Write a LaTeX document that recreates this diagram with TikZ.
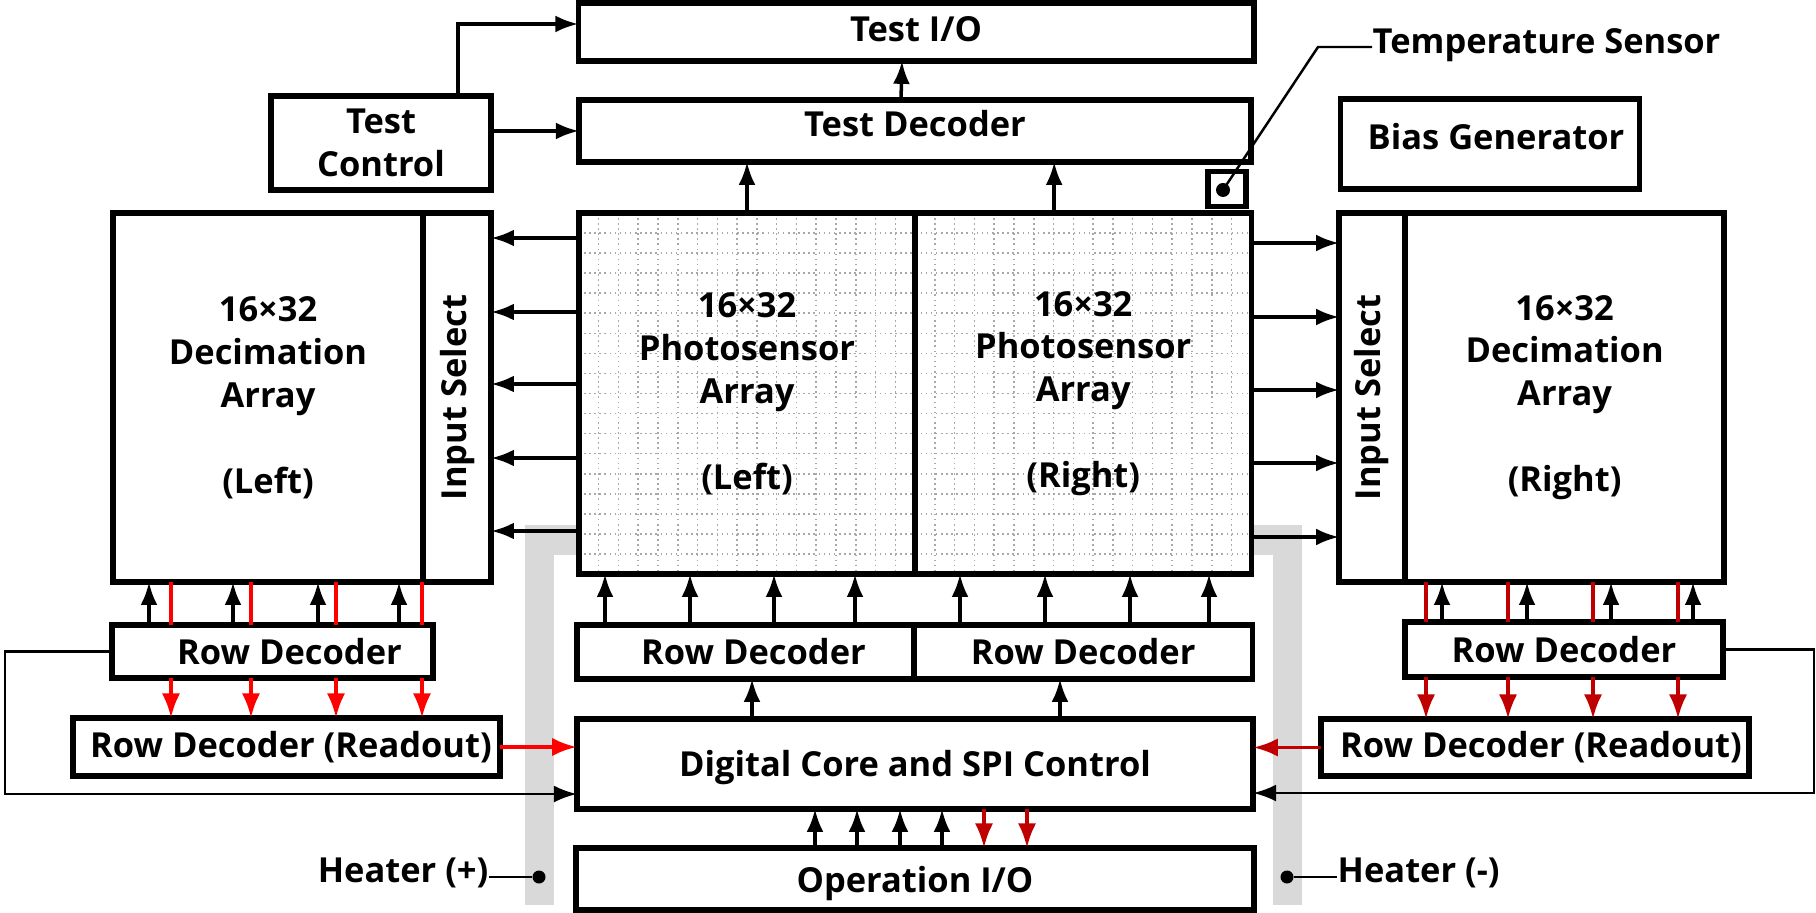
\documentclass[tikz,border=0pt]{standalone}
\usepackage{fontspec}
\setmainfont{Open Sans}
\usepackage{tikz}
\usetikzlibrary{positioning}
\usetikzlibrary{calc}
\usetikzlibrary{backgrounds}
\usetikzlibrary{arrows.meta}
\definecolor{brightred}{HTML}{FF0000}
\definecolor{darkred}{HTML}{C00000}
\definecolor{heatgray}{HTML}{D9D9D9}
\definecolor{gridgray}{HTML}{A8A8A8}
\tikzset{
	block/.style={draw, rectangle, line width=1.6pt, fill=white, inner sep=0pt, outer sep=0pt, align=center, font=\bfseries\fontsize{9.8}{12.2}\selectfont},
	txt/.style={inner sep=0pt, font=\bfseries\fontsize{9.8}{12.2}\selectfont},
	heatpin/.style={circle, fill=black, inner sep=0pt, minimum size=0.13cm},
	heater/.style={line width=0.29cm, heatgray},
	wire/.style={line width=0.7pt},
	gridln/.style={gridgray, line width=0.45pt, densely dotted},
}
% shift a label up or down without changing the box
\newcommand{\lift}[2]{\raisebox{#1}[\height][\depth]{#2}}

\begin{document}
\begin{tikzpicture}[x=0.01cm, y=-0.01cm]
		\useasboundingbox (0,0) rectangle (1816,913);
		
		\node (testio) [block, minimum width=6.75cm, minimum height=0.58cm] at (916,32) {\lift{0.03cm}{Test I/O}};
		\node (testdec) [block, minimum width=6.72cm, minimum height=0.62cm] at (915,131) {\lift{0.07cm}{Test Decoder}};
		\node (testctl) [block, minimum width=2.2cm, minimum height=0.94cm] at (381,143) {Test\\Control};
		\node (bias) [block, minimum width=2.99cm, minimum height=0.9cm] at (1490,144) {\lift{0.07cm}{\hspace*{0.12cm}Bias Generator}};
		\node (tsens) [block, minimum width=0.38cm, minimum height=0.35cm] at (1227,189) {};
		\node (tdot) [heatpin, minimum size=0.14cm] at (1223,190) {};
		\node (tlabel) [txt, anchor=west] at (1372,45) {Temperature Sensor};
		\coordinate (tbend) at (1318,47);
		
		\node (sL) [block, fill=none, minimum width=3.36cm, minimum height=3.61cm] at (747,393.5) {16×32\\Photosensor\\Array\\[12.2pt](Left)};
		\node (sR) [block, fill=none, right=0pt of sL, minimum width=3.36cm, minimum height=3.61cm] {16×32\\Photosensor\\Array\\[12.2pt](Right)};
		
		\node (decL) [block, minimum width=3.1cm, minimum height=3.69cm] at (268,397.5) {16×32\\Decimation\\Array\\[12.2pt](Left)};
		\node (selL) [block, right=0pt of decL, minimum width=0.68cm, minimum height=3.69cm] {\rotatebox{90}{Input Select}};
		\node (selR) [block, minimum width=0.66cm, minimum height=3.69cm] at (1372,397.5) {\rotatebox{90}{Input Select}};
		\node (decR) [block, right=0pt of selR, minimum width=3.19cm, minimum height=3.69cm] {16×32\\Decimation\\Array\\[12.2pt](Right)};
		
		\node (rdL) [block, minimum width=3.21cm, minimum height=0.53cm] at (272.5,651.5) {\hspace*{0.34cm}Row Decoder};
		\node (rdoL) [block, minimum width=4.27cm, minimum height=0.58cm] at (286.5,747) {\hspace*{0.09cm}Row Decoder (Readout)};
		\node (rdC1) [block, minimum width=3.37cm, minimum height=0.54cm] at (745.5,652) {\hspace*{0.16cm}Row Decoder};
		\node (rdC2) [block, right=0pt of rdC1, minimum width=3.38cm, minimum height=0.54cm] {Row Decoder};
		\node (rdR) [block, minimum width=3.18cm, minimum height=0.55cm] at (1564,649.5) {Row Decoder};
		\node (rdoR) [block, minimum width=4.28cm, minimum height=0.57cm] at (1535,747.5) {\hspace*{0.12cm}Row Decoder (Readout)};
		
		\node (core) [block, minimum width=6.76cm, minimum height=0.9cm] at (915,764) {\lift{-0.04cm}{Digital Core and SPI Control}};
		\node (opio) [block, minimum width=6.78cm, minimum height=0.62cm] at (915,879) {\lift{-0.05cm}{Operation I/O}};
		
		\node (hpin) [heatpin] at (539,877) {};
		\node (hplab) [txt, anchor=east] at (489,873) {Heater (+)};
		\node (hmpin) [heatpin] at (1287,877) {};
		\node (hmlab) [txt, anchor=west] at (1337,873) {Heater (-)};
		
		% heater trace and pixel grid sit under the arrays
		\begin{scope}[on background layer]
			\draw[heater] (539,905) -- (539,540) -- (1287,540) -- (1287,905);
			\fill[white] (sL.north west) rectangle (sR.south east);
			\foreach \k in {1,...,33}
				\draw[gridln] ($(sL.north west)!\k/34!(sR.north east)$) -- ($(sL.south west)!\k/34!(sR.south east)$);
			\foreach \k in {1,...,17}
				\draw[gridln] ($(sL.north west)!\k/18!(sL.south west)$) -- ($(sR.north east)!\k/18!(sR.south east)$);
		\end{scope}
		
		\begin{scope}[line width=1pt, black, ->, >={Latex[length=6.5pt, width=4.8pt]}]
			\draw ([xshift=0.77cm]testctl.north) |- ([yshift=0.08cm]testio.west);
			\draw (testctl.east |- testdec.west) -- (testdec.west);
			\draw ([xshift=-0.14cm]testdec.north) -- ([xshift=-0.14cm]testio.south);
			\draw (sL.north) -- (sL.north |- testdec.south);
			\draw ([xshift=-0.29cm]sR.north) -- ([xshift=-0.29cm]sR.north |- testdec.south);
			\foreach \yy in {238,312,384,458,531}
				\draw (sL.west |- 0,\yy) -- (selL.east |- 0,\yy);
			\foreach \yy in {243,317,390,463,537}
				\draw (sR.east |- 0,\yy) -- (selR.west |- 0,\yy);
			\foreach \xx in {149,233,318,399}
				\draw (rdL.north -| \xx,0) -- (decL.south -| \xx,0);
			\foreach \xx in {605,690,774,855}
				\draw (rdC1.north -| \xx,0) -- (sL.south -| \xx,0);
			\foreach \xx in {960,1045,1130,1209}
				\draw (rdC2.north -| \xx,0) -- (sR.south -| \xx,0);
			\foreach \xx in {1442,1527,1611,1693}
				\draw (rdR.north -| \xx,0) -- (decR.south -| \xx,0);
			\draw (core.north -| 752,0) -- (rdC1.south -| 752,0);
			\draw (core.north -| 1060,0) -- (rdC2.south -| 1060,0);
			\foreach \xx in {815,857,900,942}
				\draw (opio.north -| \xx,0) -- (core.south -| \xx,0);
		\end{scope}
		
		\begin{scope}[line width=1.1pt, brightred, ->, >={Latex[length=7pt, width=5.2pt]}]
			\foreach \xx in {171,251,336,422} {
				\draw[-] (decL.south -| \xx,0) -- (rdL.north -| \xx,0);
				\draw (rdL.south -| \xx,0) -- (rdoL.north -| \xx,0);
			}
			\draw (rdoL.east) -- (rdoL.east -| core.west);
		\end{scope}
		
		\begin{scope}[line width=1.1pt, darkred, ->, >={Latex[length=7pt, width=5.2pt]}]
			\foreach \xx in {1426,1508,1593,1678} {
				\draw[-] (decR.south -| \xx,0) -- (rdR.north -| \xx,0);
				\draw (rdR.south -| \xx,0) -- (rdoR.north -| \xx,0);
			}
			\draw (rdoR.west) -- (rdoR.west -| core.east);
			\foreach \xx in {984,1027}
				\draw (core.south -| \xx,0) -- (opio.north -| \xx,0);
		\end{scope}
		
		\begin{scope}[wire, ->, >={Latex[length=6.5pt, width=4.8pt]}]
			\draw (rdL.west) -- ++(-107,0) |- ([yshift=-0.3cm]core.west);
			\draw (rdR.east) -- ++(91,0) |- ([yshift=-0.29cm]core.east);
		\end{scope}
		
		\draw[wire] (tdot.center) -- (tbend) -- (tbend -| tlabel.west);
		\draw[wire] (hpin) -- (hpin -| hplab.east);
		\draw[wire] (hmpin) -- (hmpin -| hmlab.west);
	\end{tikzpicture}
\end{document}
